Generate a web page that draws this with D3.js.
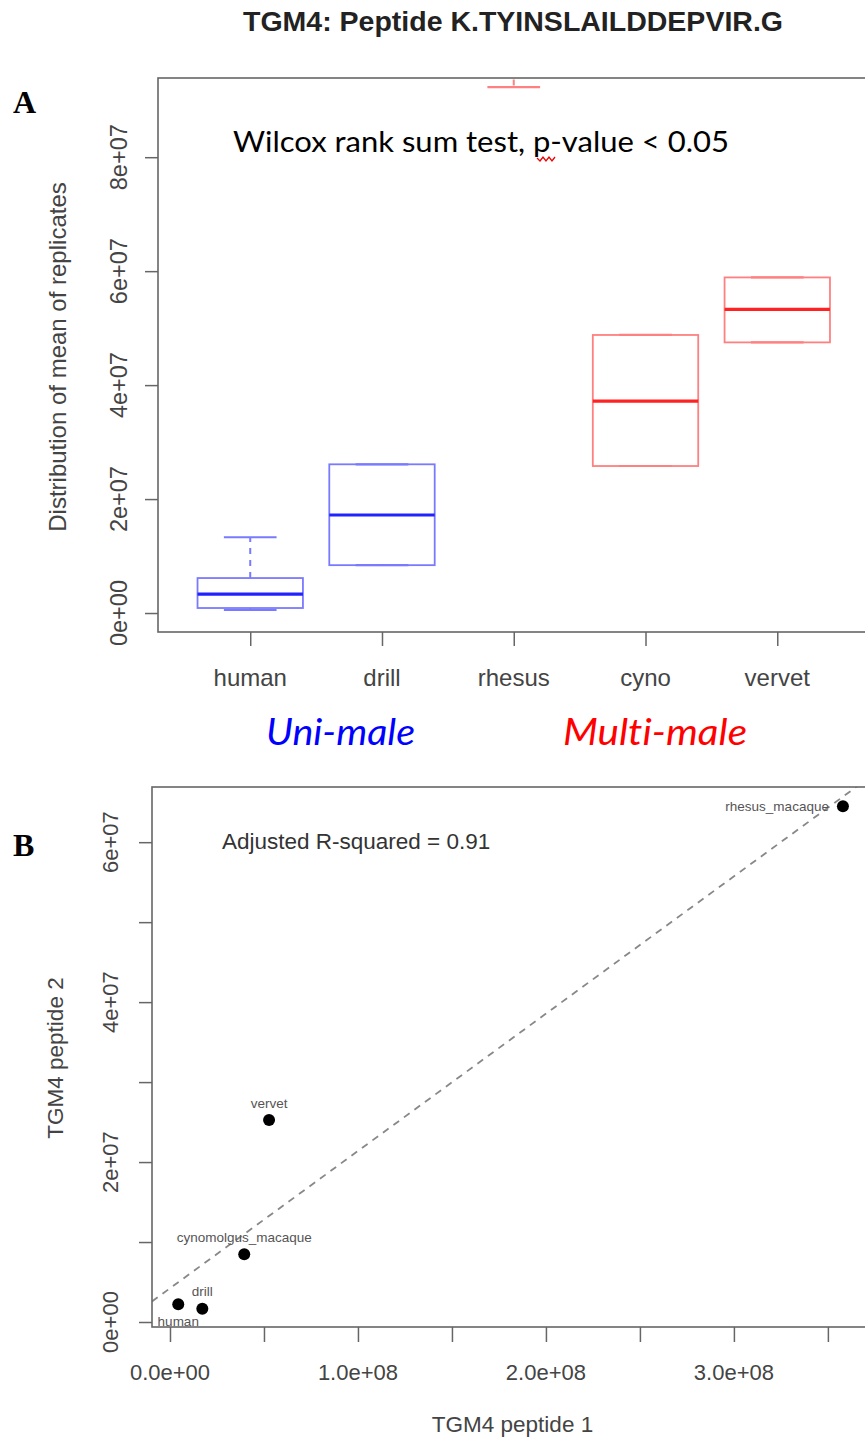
<!DOCTYPE html>
<html>
<head>
<meta charset="utf-8">
<script src="https://cdn.jsdelivr.net/npm/d3@7"></script>
<style>
  html, body { margin: 0; padding: 0; background: #fff; }
  svg { display: block; }
  text { font-variant-ligatures: none; font-feature-settings: "liga" 0, "clig" 0; }
</style>
</head>
<body>
<script>
// ---------------- DATA ----------------
const title = "TGM4: Peptide K.TYINSLAILDDEPVIR.G";

// Panel A : box plot statistics (lower whisker, Q1, median, Q3, upper whisker)
const categories = ["human", "drill", "rhesus", "cyno", "vervet"];
const groupOf    = ["uni", "uni", "multi", "multi", "multi"];
const whiskerLow  = [0.53e6,  8.4e6,  92.3e6,  25.8e6, 47.5e6];
const q1          = [0.88e6,  8.4e6,  2.2e8,   25.8e6, 47.5e6];
const medians     = [3.33e6,  17.2e6, 3.6e8,   37.2e6, 53.3e6];
const q3          = [6.14e6,  26.1e6, 4.5e8,   48.8e6, 58.9e6];
const whiskerHigh = [13.3e6,  26.1e6, 5.5e8,   48.8e6, 58.9e6];
const yTicksA = [0, 2e7, 4e7, 6e7, 8e7];
const yTickLabelsA = ["0e+00", "2e+07", "4e+07", "6e+07", "8e+07"];
const yTitleA = "Distribution of mean of replicates";
const annotationA = "Wilcox rank sum test, p-value < 0.05";
const groupLabels = ["Uni-male", "Multi-male"];

// Panel B : scatter of peptide 1 vs peptide 2
const species  = ["human", "drill", "rhesus_macaque", "cynomolgus_macaque", "vervet"];
const peptide1 = [4.4e6, 17.2e6, 358e6, 39.5e6, 52.7e6];
const peptide2 = [2.21e6, 1.67e6, 64.5e6, 8.46e6, 25.25e6];
const labelPos = ["below", "above", "left", "above", "above"];
const xTicksB = [0, 0.5e8, 1e8, 1.5e8, 2e8, 2.5e8, 3e8, 3.5e8];
const xTickLabelsB = ["0.0e+00", "", "1.0e+08", "", "2.0e+08", "", "3.0e+08", ""];
const yTicksB = [0, 1e7, 2e7, 3e7, 4e7, 5e7, 6e7];
const yTickLabelsB = ["0e+00", "", "2e+07", "", "4e+07", "", "6e+07"];
const xTitleB = "TGM4 peptide 1";
const yTitleB = "TGM4 peptide 2";
const annotationB = "Adjusted R-squared = 0.91";

// ---------------- DRAWING ----------------
const W = 865, H = 1441;
const svg = d3.select("body").append("svg").attr("width", W).attr("height", H);
const rFont = "'Liberation Sans', Arial, Helvetica, sans-serif";
const axisCol = "#666", textCol = "#444";
const colors = {
  uni:   { box: "#7a7aff", med: "#2222ff", text: "#0000ff" },
  multi: { box: "#ff8080", med: "#ff2222", text: "#ff0000" }
};

// Title
svg.append("text").attr("x", 513).attr("y", 31).attr("text-anchor", "middle")
  .attr("font-family", rFont).attr("font-weight", "bold").attr("font-size", 28.5)
  .attr("fill", "#222").text(title);

// ===== Panel A =====
const xA = d3.scaleLinear().domain([0.3, 5.7]).range([158, 869.5]);
const yA = d3.scaleLinear().domain([-3.33e6, 93.9e6]).range([632, 78]);
const gA = svg.append("g");
const [ax0, ax1] = xA.range(), [ay0, ay1] = [yA.range()[1], yA.range()[0]];

svg.append("defs").append("clipPath").attr("id", "clipA")
  .append("rect").attr("x", ax0).attr("y", ay0).attr("width", ax1 - ax0).attr("height", ay1 - ay0);

const boxes = gA.append("g").attr("clip-path", "url(#clipA)");
const boxW = xA(1.4) - xA(1);   // half box width (boxwex 0.8)
const capW = boxW / 2;
categories.forEach((c, i) => {
  const cx = xA(i + 1);
  const col = colors[groupOf[i]];
  const g = boxes.append("g");
  // whiskers
  g.append("line").attr("x1", cx).attr("x2", cx).attr("y1", yA(q3[i])).attr("y2", yA(whiskerHigh[i]))
    .attr("stroke", col.box).attr("stroke-width", 2).attr("stroke-dasharray", "6,6");
  g.append("line").attr("x1", cx).attr("x2", cx).attr("y1", yA(q1[i])).attr("y2", yA(whiskerLow[i]))
    .attr("stroke", col.box).attr("stroke-width", 2).attr("stroke-dasharray", "6,6");
  // caps
  [whiskerLow[i], whiskerHigh[i]].forEach(v => {
    g.append("line").attr("x1", cx - capW).attr("x2", cx + capW).attr("y1", yA(v)).attr("y2", yA(v))
      .attr("stroke", col.box).attr("stroke-width", 2.2);
  });
  // box
  g.append("rect").attr("x", cx - boxW).attr("width", 2 * boxW)
    .attr("y", yA(q3[i])).attr("height", yA(q1[i]) - yA(q3[i]))
    .attr("fill", "none").attr("stroke", col.box).attr("stroke-width", 1.8);
  // median
  g.append("line").attr("x1", cx - boxW).attr("x2", cx + boxW).attr("y1", yA(medians[i])).attr("y2", yA(medians[i]))
    .attr("stroke", col.med).attr("stroke-width", 3.2);
});

// frame
gA.append("rect").attr("x", ax0).attr("y", ay0).attr("width", ax1 - ax0).attr("height", ay1 - ay0)
  .attr("fill", "none").attr("stroke", axisCol).attr("stroke-width", 1.6);

// y axis A
const yAxisA = d3.axisLeft(yA).tickValues(yTicksA).tickSize(13).tickFormat("");
const gyA = gA.append("g").attr("transform", `translate(${ax0},0)`).call(yAxisA);
gyA.select(".domain").remove();
gyA.selectAll(".tick line").attr("stroke", axisCol).attr("stroke-width", 1.5);
yTicksA.forEach((v, i) => {
  gA.append("text").attr("transform", `translate(127,${yA(v)}) rotate(-90)`)
    .attr("text-anchor", "middle").attr("font-family", rFont).attr("font-size", 23.5)
    .attr("fill", textCol).text(yTickLabelsA[i]);
});
gA.append("text").attr("transform", `translate(66,357) rotate(-90)`)
  .attr("text-anchor", "middle").attr("font-family", rFont).attr("font-size", 24)
  .attr("fill", textCol).text(yTitleA);

// x axis A
const xAxisA = d3.axisBottom(xA).tickValues(categories.map((c, i) => i + 1)).tickSize(14).tickFormat("");
const gxA = gA.append("g").attr("transform", `translate(0,${ay1})`).call(xAxisA);
gxA.select(".domain").remove();
gxA.selectAll(".tick line").attr("stroke", axisCol).attr("stroke-width", 1.5);
categories.forEach((c, i) => {
  gA.append("text").attr("x", xA(i + 1)).attr("y", 686).attr("text-anchor", "middle")
    .attr("font-family", rFont).attr("font-size", 24).attr("fill", textCol).text(c);
});

// annotation A
gA.append("text").attr("x", 233).attr("y", 152)
  .attr("font-family", "Lato, 'Open Sans', sans-serif").attr("font-size", 28.5)
  .attr("textLength", 496).attr("lengthAdjust", "spacingAndGlyphs")
  .attr("fill", "#000").text(annotationA);
// spell-check squiggle under "p"
const sq = d3.path();
sq.moveTo(537, 158);
for (let k = 0; k < 6; k++) { sq.lineTo(540 + k * 3, k % 2 === 0 ? 161 : 157); }
gA.append("path").attr("d", sq.toString()).attr("fill", "none").attr("stroke", "#e00").attr("stroke-width", 1.3);

// group labels
gA.append("text").attr("x", 266).attr("y", 745)
  .attr("font-family", "Lato, 'Open Sans', sans-serif").attr("font-style", "italic").attr("font-size", 36)
  .attr("textLength", 149).attr("lengthAdjust", "spacingAndGlyphs")
  .attr("fill", colors.uni.text).text(groupLabels[0]);
gA.append("text").attr("x", 563).attr("y", 745)
  .attr("font-family", "Lato, 'Open Sans', sans-serif").attr("font-style", "italic").attr("font-size", 36)
  .attr("textLength", 184).attr("lengthAdjust", "spacingAndGlyphs")
  .attr("fill", colors.multi.text).text(groupLabels[1]);

// panel letter
svg.append("text").attr("x", 13).attr("y", 113)
  .attr("font-family", "'Liberation Serif', 'Times New Roman', serif").attr("font-weight", "bold")
  .attr("font-size", 32).attr("fill", "#000").text("A");

// ===== Panel B =====
const xB = d3.scaleLinear().domain([-9.57e6, 3.74e8]).range([152, 873]);
const yB = d3.scaleLinear().domain([-6.25e5, 6.69e7]).range([1327, 787]);
const gB = svg.append("g");
const [bx0, bx1] = xB.range(), [by0, by1] = [yB.range()[1], yB.range()[0]];

svg.select("defs").append("clipPath").attr("id", "clipB")
  .append("rect").attr("x", bx0).attr("y", by0).attr("width", bx1 - bx0).attr("height", by1 - by0);

// least squares regression from data
const mx = d3.mean(peptide1), my = d3.mean(peptide2);
const sxy = d3.sum(peptide1.map((x, i) => (x - mx) * (peptide2[i] - my)));
const sxx = d3.sum(peptide1.map(x => (x - mx) ** 2));
const slope = sxy / sxx, intercept = my - slope * mx;
const xd = xB.domain();
gB.append("line").attr("clip-path", "url(#clipB)")
  .attr("x1", xB(xd[0])).attr("y1", yB(intercept + slope * xd[0]))
  .attr("x2", xB(xd[1])).attr("y2", yB(intercept + slope * xd[1]))
  .attr("stroke", "#888").attr("stroke-width", 1.8).attr("stroke-dasharray", "7,6");

// points
species.forEach((s, i) => {
  gB.append("circle").attr("cx", xB(peptide1[i])).attr("cy", yB(peptide2[i])).attr("r", 6).attr("fill", "#000");
  const px = xB(peptide1[i]), py = yB(peptide2[i]);
  const t = gB.append("text").attr("font-family", rFont).attr("font-size", 13.5).attr("fill", "#555").text(s);
  if (labelPos[i] === "above") t.attr("x", px).attr("y", py - 12.5).attr("text-anchor", "middle");
  else if (labelPos[i] === "below") t.attr("x", px).attr("y", py + 22).attr("text-anchor", "middle");
  else t.attr("x", px - 14).attr("y", py + 4.5).attr("text-anchor", "end");
});

// frame
gB.append("rect").attr("x", bx0).attr("y", by0).attr("width", bx1 - bx0).attr("height", by1 - by0)
  .attr("fill", "none").attr("stroke", axisCol).attr("stroke-width", 1.6);

// x axis B
const gxB = gB.append("g").attr("transform", `translate(0,${by1})`)
  .call(d3.axisBottom(xB).tickValues(xTicksB).tickSize(15).tickFormat(""));
gxB.select(".domain").remove();
gxB.selectAll(".tick line").attr("stroke", axisCol).attr("stroke-width", 1.5);
xTicksB.forEach((v, i) => {
  if (!xTickLabelsB[i]) return;
  gB.append("text").attr("x", xB(v)).attr("y", 1380).attr("text-anchor", "middle")
    .attr("font-family", rFont).attr("font-size", 22).attr("fill", textCol).text(xTickLabelsB[i]);
});
gB.append("text").attr("x", (bx0 + bx1) / 2).attr("y", 1432).attr("text-anchor", "middle")
  .attr("font-family", rFont).attr("font-size", 22.5).attr("fill", textCol).text(xTitleB);

// y axis B
const gyB = gB.append("g").attr("transform", `translate(${bx0},0)`)
  .call(d3.axisLeft(yB).tickValues(yTicksB).tickSize(13).tickFormat(""));
gyB.select(".domain").remove();
gyB.selectAll(".tick line").attr("stroke", axisCol).attr("stroke-width", 1.5);
yTicksB.forEach((v, i) => {
  if (!yTickLabelsB[i]) return;
  gB.append("text").attr("transform", `translate(118,${yB(v)}) rotate(-90)`)
    .attr("text-anchor", "middle").attr("font-family", rFont).attr("font-size", 22)
    .attr("fill", textCol).text(yTickLabelsB[i]);
});
gB.append("text").attr("transform", `translate(63,1058) rotate(-90)`)
  .attr("text-anchor", "middle").attr("font-family", rFont).attr("font-size", 22.5)
  .attr("fill", textCol).text(yTitleB);

// annotation B
gB.append("text").attr("x", 222).attr("y", 849)
  .attr("font-family", rFont).attr("font-size", 22.5).attr("fill", "#333").text(annotationB);

// panel letter
svg.append("text").attr("x", 13).attr("y", 856)
  .attr("font-family", "'Liberation Serif', 'Times New Roman', serif").attr("font-weight", "bold")
  .attr("font-size", 32).attr("fill", "#000").text("B");
</script>
</body>
</html>
